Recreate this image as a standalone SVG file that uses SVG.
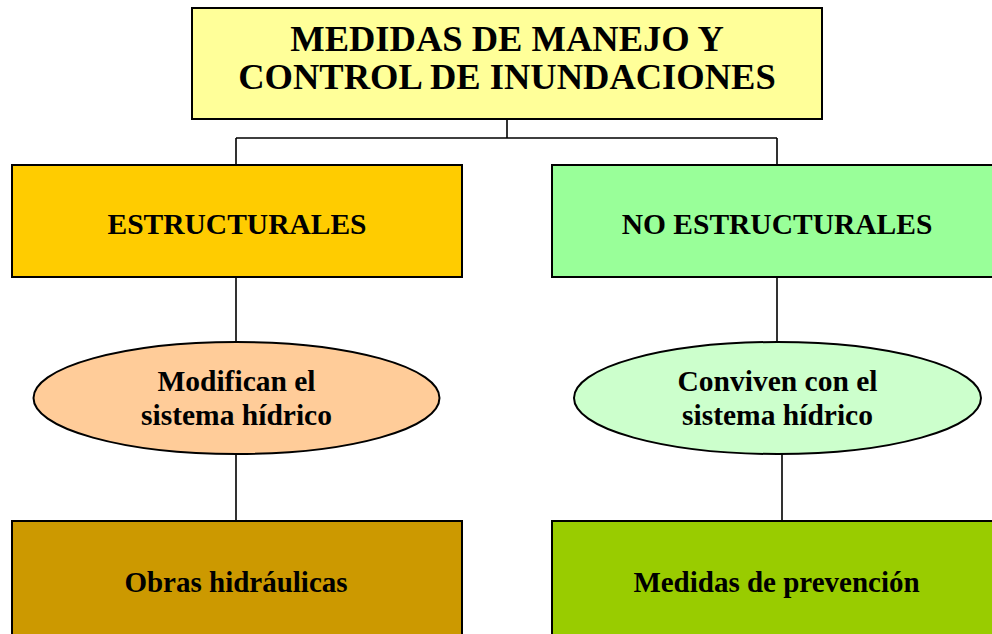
<svg xmlns="http://www.w3.org/2000/svg" width="992" height="634" viewBox="0 0 992 634">
<style>
.box{stroke:#000;stroke-width:2}
.ell{stroke:#000;stroke-width:2}
.con{stroke:#000;stroke-width:1.6;fill:none}
text{font-family:"Liberation Serif","Times New Roman",serif;font-weight:bold;fill:#000;text-anchor:middle}
.t1{font-size:36.5px}
.t2{font-size:29.5px}
.t3{font-size:29.5px}
.t4{font-size:29px}
</style>
<rect width="992" height="634" fill="#fff"/>
<g id="connectors">
<path class="con" d="M507 119V138M236 138H777M236 138V165M777 138V165"/>
<path class="con" d="M236 277V342M777 277V342"/>
<path class="con" d="M236 454V521M782 454V521"/>
</g>
<g id="title">
<rect class="box" x="192" y="8" width="630" height="111" fill="#FFFF99"/>
<text class="t1" x="507" y="51">MEDIDAS DE MANEJO Y</text>
<text class="t1" x="507" y="89">CONTROL DE INUNDACIONES</text>
</g>
<g id="estructurales">
<rect class="box" x="12" y="165" width="450" height="112" fill="#FFCC00"/>
<text class="t2" x="237" y="234">ESTRUCTURALES</text>
</g>
<g id="no-estructurales">
<rect class="box" x="552" y="165" width="450" height="112" fill="#99FF99"/>
<text class="t2" x="777" y="234">NO ESTRUCTURALES</text>
</g>
<g id="modifican">
<ellipse class="ell" cx="236.5" cy="398" rx="203" ry="56" fill="#FFCC99"/>
<text class="t3" x="236.5" y="391">Modifican el</text>
<text class="t3" x="236.5" y="425">sistema hídrico</text>
</g>
<g id="conviven">
<ellipse class="ell" cx="777.5" cy="398" rx="203.5" ry="56" fill="#CCFFCC"/>
<text class="t3" x="777.5" y="391">Conviven con el</text>
<text class="t3" x="777.5" y="425">sistema hídrico</text>
</g>
<g id="obras">
<rect class="box" x="12" y="521" width="450" height="120" fill="#CC9900"/>
<text class="t4" x="236" y="592">Obras hidráulicas</text>
</g>
<g id="prevencion">
<rect class="box" x="552" y="521" width="450" height="120" fill="#99CC00"/>
<text class="t4" x="776.5" y="592">Medidas de prevención</text>
</g>
</svg>
